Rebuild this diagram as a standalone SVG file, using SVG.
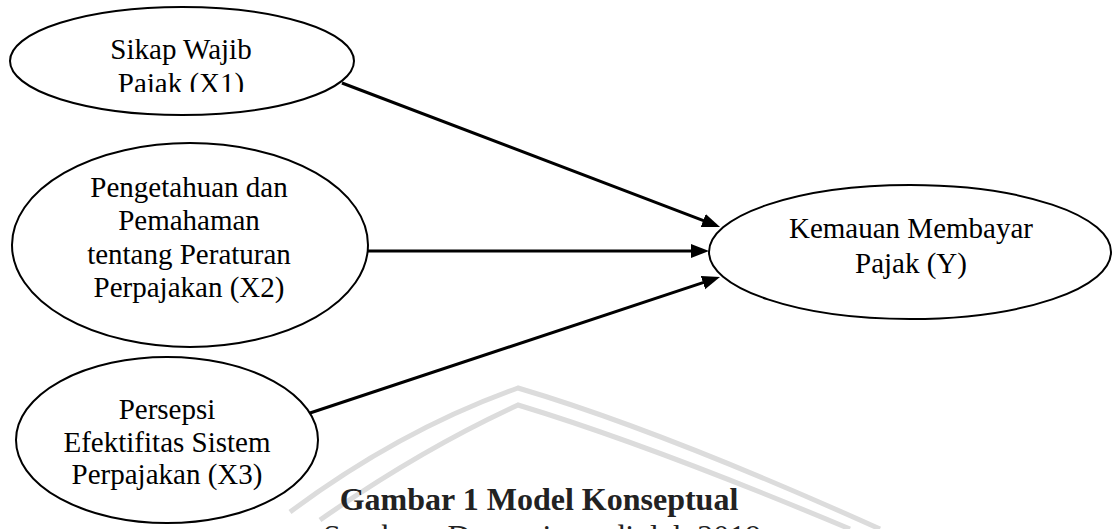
<svg xmlns="http://www.w3.org/2000/svg" width="1112" height="529" viewBox="0 0 1112 529">
  <defs>
    <style>
      .node { fill: #ffffff; stroke: #000000; stroke-width: 2; }
      .lbl { font-family: "Liberation Serif", "Times New Roman", serif; font-size: 29px; fill: #000000; text-anchor: middle; }
      .edge { stroke: #000000; stroke-width: 3; fill: none; marker-end: url(#arrow); }
      .wm { fill: none; stroke: #dcdcdc; stroke-width: 5; }
      .cap { font-family: "Liberation Serif", "Times New Roman", serif; font-size: 32px; fill: #222222; }
    </style>
    <marker id="arrow" markerUnits="userSpaceOnUse" markerWidth="20" markerHeight="16" viewBox="0 0 20 16" refX="8" refY="7" orient="auto">
      <path d="M0,0 L18,7 L0,14 z" fill="#000000"/>
    </marker>
    <clipPath id="clipX1">
      <rect x="0" y="0" width="400" height="92"/>
    </clipPath>
  </defs>
  <rect x="0" y="0" width="1112" height="529" fill="#ffffff"/>

  <g id="watermark">
    <path class="wm" d="M290,512 Q400,430 518,388 Q660,430 880,529"/>
    <path class="wm" d="M320,520 Q420,450 518,405 Q650,445 850,529"/>
  </g>

  <g id="connectors">
    <line class="edge" x1="342" y1="83" x2="710.7" y2="223.4"/>
    <line class="edge" x1="368" y1="251" x2="699" y2="251"/>
    <line class="edge" x1="310" y1="413" x2="710.5" y2="280.1"/>
  </g>

  <g id="node-x1">
    <ellipse class="node" cx="182" cy="61" rx="172" ry="54"/>
    <g clip-path="url(#clipX1)">
      <text class="lbl" x="181" y="59">Sikap Wajib</text>
      <text class="lbl" x="181" y="93">Pajak (X1)</text>
    </g>
  </g>

  <g id="node-x2">
    <ellipse class="node" cx="190" cy="245" rx="178" ry="102"/>
    <text class="lbl" x="189" y="197">Pengetahuan dan</text>
    <text class="lbl" x="189" y="230">Pemahaman</text>
    <text class="lbl" x="189" y="264">tentang Peraturan</text>
    <text class="lbl" x="189" y="297">Perpajakan (X2)</text>
  </g>

  <g id="node-x3">
    <ellipse class="node" cx="167" cy="440" rx="151" ry="83"/>
    <text class="lbl" x="167" y="419">Persepsi</text>
    <text class="lbl" x="167" y="452">Efektifitas Sistem</text>
    <text class="lbl" x="167" y="484">Perpajakan (X3)</text>
  </g>

  <g id="node-y">
    <ellipse class="node" cx="910" cy="252" rx="201" ry="67"/>
    <text class="lbl" x="911" y="238">Kemauan Membayar</text>
    <text class="lbl" x="911" y="273">Pajak (Y)</text>
  </g>

  <g id="caption">
    <text class="cap" x="539" y="510" text-anchor="middle" font-weight="bold">Gambar 1 Model Konseptual</text>
    <text class="cap" x="323" y="547">Sumber : Data primer diolah 2019</text>
  </g>
</svg>
